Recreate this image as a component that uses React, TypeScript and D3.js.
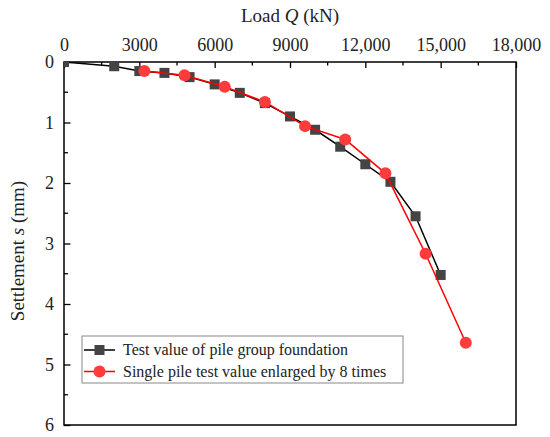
import * as d3 from "d3";
import { useEffect, useRef } from "react";

const WIDTH = 550;
const HEIGHT = 437;
const margin = { top: 62, right: 34, bottom: 12, left: 64 };

// pile group foundation (load in kN, settlement in mm)
const groupLoad = [0, 2000, 3000, 4000, 5000, 6000, 7000, 8000, 9000, 10000, 11000, 12000, 13000, 14000, 15000];
const groupSettle = [0, 0.07, 0.15, 0.18, 0.25, 0.37, 0.51, 0.68, 0.9, 1.12, 1.4, 1.69, 1.98, 2.55, 3.52];

// single pile test, load enlarged by 8 times
const singleLoad = [3200, 4800, 6400, 8000, 9600, 11200, 12800, 14400, 16000];
const singleSettle = [0.15, 0.22, 0.41, 0.66, 1.06, 1.28, 1.84, 3.17, 4.64];

const xTicks = [0, 3000, 6000, 9000, 12000, 15000, 18000];
const yTicks = [0, 1, 2, 3, 4, 5, 6];
const legendLabels = ["Test value of pile group foundation", "Single pile test value enlarged by 8 times"];

const FONT = "'Liberation Serif', 'Times New Roman', serif";

function drawChart(node: SVGSVGElement) {
  const width = WIDTH - margin.left - margin.right;
  const height = HEIGHT - margin.top - margin.bottom;

  const xScale = d3.scaleLinear().domain([0, 18000]).range([0, width]);
  const yScale = d3.scaleLinear().domain([0, 6]).range([0, height]);

  const svg = d3.select(node);
  svg.selectAll("*").remove();

  svg.append("rect").attr("width", WIDTH).attr("height", HEIGHT).attr("fill", "white");

  svg
    .append("defs")
    .append("clipPath")
    .attr("id", "plot-clip")
    .append("rect")
    .attr("width", width)
    .attr("height", height);

  const chart = svg
    .append("g")
    .attr("transform", "translate(" + margin.left + "," + margin.top + ")");

  // top axis, ticks pointing into the plot
  const xAxis = chart.append("g").call(
    d3
      .axisTop(xScale)
      .tickValues(xTicks)
      .tickSize(-6)
      .tickPadding(11)
      .tickFormat((d) => {
        const v = d as number;
        return v >= 10000 ? d3.format(",")(v) : String(v);
      })
  );
  xAxis.select(".domain").remove();
  xAxis.selectAll("line").attr("stroke", "black").attr("stroke-width", 1.3);
  xAxis
    .selectAll("text")
    .attr("fill", "#222")
    .style("font-family", FONT)
    .style("font-size", "18px");

  // minor ticks on top
  chart
    .append("g")
    .selectAll("line")
    .data(d3.range(1500, 18000, 3000))
    .enter()
    .append("line")
    .attr("x1", (d) => xScale(d))
    .attr("x2", (d) => xScale(d))
    .attr("y1", 0)
    .attr("y2", 3.5)
    .attr("stroke", "black")
    .attr("stroke-width", 1.3);

  // left axis, ticks pointing into the plot
  const yAxis = chart.append("g").call(
    d3.axisLeft(yScale).tickValues(yTicks).tickSize(-6.5).tickPadding(10).tickFormat(d3.format("d"))
  );
  yAxis.select(".domain").remove();
  yAxis.selectAll("line").attr("stroke", "black").attr("stroke-width", 1.3);
  yAxis
    .selectAll("text")
    .attr("fill", "#222")
    .style("font-family", FONT)
    .style("font-size", "18px");

  chart
    .append("g")
    .selectAll("line")
    .data(d3.range(0.5, 6, 1))
    .enter()
    .append("line")
    .attr("y1", (d) => yScale(d))
    .attr("y2", (d) => yScale(d))
    .attr("x1", 0)
    .attr("x2", 4)
    .attr("stroke", "black")
    .attr("stroke-width", 1.3);

  // frame
  chart
    .append("rect")
    .attr("width", width)
    .attr("height", height)
    .attr("fill", "none")
    .attr("stroke", "black")
    .attr("stroke-width", 1.5);

  // axis titles
  const xTitle = svg
    .append("text")
    .attr("x", margin.left + width / 2)
    .attr("y", 22)
    .attr("text-anchor", "middle")
    .attr("fill", "#222")
    .style("font-family", FONT)
    .style("font-size", "19px");
  xTitle.append("tspan").text("Load ");
  xTitle.append("tspan").style("font-style", "italic").text("Q");
  xTitle.append("tspan").text(" (kN)");

  const yTitle = svg
    .append("text")
    .attr("transform", "translate(24," + 251 + ")rotate(-90)")
    .attr("text-anchor", "middle")
    .attr("fill", "#222")
    .style("font-family", FONT)
    .style("font-size", "19px");
  yTitle.append("tspan").text("Settlement ");
  yTitle.append("tspan").style("font-style", "italic").text("s");
  yTitle.append("tspan").text(" (mm)");

  const plot = chart.append("g").attr("clip-path", "url(#plot-clip)");

  const groupData = groupLoad.map((q, i) => ({ q, s: groupSettle[i] }));
  const singleData = singleLoad.map((q, i) => ({ q, s: singleSettle[i] }));

  const line = d3
    .line<{ q: number; s: number }>()
    .x((d) => xScale(d.q))
    .y((d) => yScale(d.s));

  plot
    .append("path")
    .datum(groupData)
    .attr("d", line)
    .attr("fill", "none")
    .attr("stroke", "black")
    .attr("stroke-width", 1.5);

  plot
    .append("g")
    .selectAll("rect")
    .data(groupData)
    .enter()
    .append("rect")
    .attr("x", (d) => xScale(d.q) - 5)
    .attr("y", (d) => yScale(d.s) - 5)
    .attr("width", 10)
    .attr("height", 10)
    .attr("fill", "#444");

  plot
    .append("path")
    .datum(singleData)
    .attr("d", line)
    .attr("fill", "none")
    .attr("stroke", "#ff0000")
    .attr("stroke-width", 1.5);

  plot
    .append("g")
    .selectAll("circle")
    .data(singleData)
    .enter()
    .append("circle")
    .attr("cx", (d) => xScale(d.q))
    .attr("cy", (d) => yScale(d.s))
    .attr("r", 6)
    .attr("fill", "#ff3b3b");

  // legend
  const legend = svg.append("g").attr("transform", "translate(82,336)");
  legend
    .append("rect")
    .attr("width", 321)
    .attr("height", 47)
    .attr("fill", "white")
    .attr("stroke", "#888")
    .attr("stroke-width", 1);

  legendLabels.forEach((label, i) => {
    const row = legend.append("g").attr("transform", `translate(0,${14 + i * 21.5})`);
    row
      .append("line")
      .attr("x1", 2)
      .attr("x2", 33)
      .attr("stroke", i === 0 ? "black" : "#ff0000")
      .attr("stroke-width", 1.5);
    if (i === 0) {
      row.append("rect").attr("x", 12.5).attr("y", -5).attr("width", 10).attr("height", 10).attr("fill", "#444");
    } else {
      row.append("circle").attr("cx", 17.5).attr("r", 6).attr("fill", "#ff3b3b");
    }
    row
      .append("text")
      .attr("x", 41)
      .attr("y", 5)
      .attr("fill", "#222")
      .style("font-family", FONT)
      .style("font-size", "16px")
      .text(label);
  });
}

function App() {
  const ref = useRef<SVGSVGElement>(null);

  useEffect(() => {
    if (ref.current) drawChart(ref.current);
  }, []);

  return (
    <svg
      ref={ref}
      width={WIDTH}
      height={HEIGHT}
      style={{ position: "absolute", left: 0, top: 0, display: "block" }}
    ></svg>
  );
}

export default App;
